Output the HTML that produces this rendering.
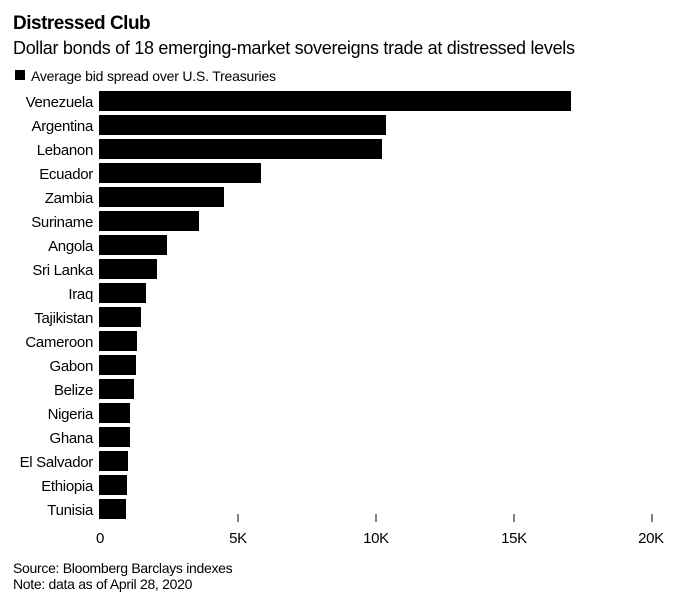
<!DOCTYPE html>
<html><head><style>
body{margin:0;background:#fff;width:690px;height:598px;overflow:hidden;font-family:"Liberation Sans",sans-serif;color:#000}
</style></head><body>
<svg width="690" height="598" xmlns="http://www.w3.org/2000/svg" font-family="Liberation Sans, sans-serif">
<text x="13" y="29" font-size="19" font-weight="bold" letter-spacing="-0.5">Distressed Club</text>
<text x="13" y="54" font-size="18" letter-spacing="-0.3">Dollar bonds of 18 emerging-market sovereigns trade at distressed levels</text>
<rect x="15" y="70" width="10" height="10" fill="#000"/>
<text x="31" y="81" font-size="14" letter-spacing="-0.2">Average bid spread over U.S. Treasuries</text>
<g font-size="15" text-anchor="end" letter-spacing="-0.3">
<text x="93" y="107">Venezuela</text><rect x="99" y="91" width="472" height="20"/>
<text x="93" y="131">Argentina</text><rect x="99" y="115" width="287" height="20"/>
<text x="93" y="155">Lebanon</text><rect x="99" y="139" width="283" height="20"/>
<text x="93" y="179">Ecuador</text><rect x="99" y="163" width="162" height="20"/>
<text x="93" y="203">Zambia</text><rect x="99" y="187" width="125" height="20"/>
<text x="93" y="227">Suriname</text><rect x="99" y="211" width="100" height="20"/>
<text x="93" y="251">Angola</text><rect x="99" y="235" width="68" height="20"/>
<text x="93" y="275">Sri Lanka</text><rect x="99" y="259" width="58" height="20"/>
<text x="93" y="299">Iraq</text><rect x="99" y="283" width="47" height="20"/>
<text x="93" y="323">Tajikistan</text><rect x="99" y="307" width="42" height="20"/>
<text x="93" y="347">Cameroon</text><rect x="99" y="331" width="38" height="20"/>
<text x="93" y="371">Gabon</text><rect x="99" y="355" width="37" height="20"/>
<text x="93" y="395">Belize</text><rect x="99" y="379" width="35" height="20"/>
<text x="93" y="419">Nigeria</text><rect x="99" y="403" width="31" height="20"/>
<text x="93" y="443">Ghana</text><rect x="99" y="427" width="31" height="20"/>
<text x="93" y="467">El Salvador</text><rect x="99" y="451" width="29" height="20"/>
<text x="93" y="491">Ethiopia</text><rect x="99" y="475" width="28" height="20"/>
<text x="93" y="515">Tunisia</text><rect x="99" y="499" width="27" height="20"/>
</g>
<g stroke="#000" stroke-width="1">
<line x1="238" y1="514" x2="238" y2="522"/><line x1="376" y1="514" x2="376" y2="522"/><line x1="514" y1="514" x2="514" y2="522"/><line x1="652" y1="514" x2="652" y2="522"/>
</g>
<g font-size="15" text-anchor="middle" letter-spacing="-0.3">
<text x="100" y="543">0</text><text x="238" y="543">5K</text><text x="376" y="543">10K</text><text x="514" y="543">15K</text><text x="651" y="543">20K</text>
</g>
<text x="13" y="573" font-size="14" letter-spacing="-0.3">Source: Bloomberg Barclays indexes</text>
<text x="13" y="589" font-size="14" letter-spacing="-0.3">Note: data as of April 28, 2020</text>
</svg>
</body></html>
